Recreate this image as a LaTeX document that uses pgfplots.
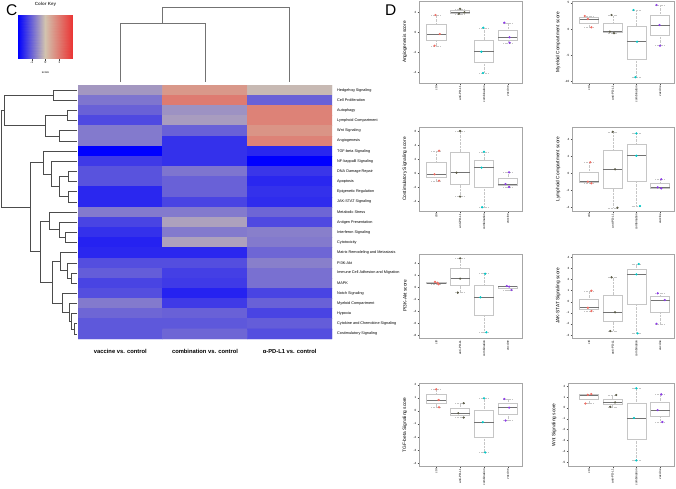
\documentclass[border=0pt]{standalone}
\usepackage{fontspec}
\setmainfont{Liberation Sans}
\usepackage{pgfplots}
\pgfplotsset{compat=1.18}
\usepgfplotslibrary{statistics}

\definecolor{cctrl}{RGB}{240,110,100}
\definecolor{canti}{RGB}{90,90,70}
\definecolor{ccomb}{RGB}{0,200,200}
\definecolor{cvacc}{RGB}{140,60,230}

\pgfplotsset{
  colormap={keymap}{rgb255=(0,0,255) rgb255=(210,195,175) rgb255=(235,50,50)},
  dend/.style={draw=black!70, line width=0.6pt},
  bx/.style={
    anchor=north west, scale only axis, width=103pt, height=83pt,
    xmin=0.28, xmax=4.59, xtick={1,2,3,4},
    xticklabels={ctrl,anti-PD-L1,combination,vaccine},
    xticklabel style={rotate=90, anchor=east, font=\fontsize{3}{3}\selectfont, inner sep=1pt},
    yticklabel style={font=\fontsize{3}{3}\selectfont, inner sep=1pt},
    /pgf/number format/assume math mode=true,
    axis line style={gray!70, line width=0.4pt},
    tick style={gray!60!black, line width=0.3pt},
    tick align=outside, major tick length=1.5pt,
    xtick pos=bottom, ytick pos=left,
    every axis y label/.style={at={(axis description cs:0,0.5)}, xshift=-14pt,
      rotate=90, anchor=center, font=\fontsize{4.8}{5}\selectfont},
    boxplot/draw direction=y, boxplot/box extend=0.8, boxplot/whisker extend=0.4,
    boxplot/every whisker/.style={densely dotted},
    boxplot/every median/.style={draw=black!55, line width=0.6pt, solid},
    clip=false},
}

% box from five numbers: position, lower whisker, lower quartile, median, upper quartile, upper whisker
\newcommand{\bx}[6]{\addplot[boxplot prepared={draw position=#1, lower whisker=#2,
  lower quartile=#3, median=#4, upper quartile=#5, upper whisker=#6},
  draw=gray!45, line width=0.4pt] coordinates {};}
\newcommand{\pts}[2]{\addplot[only marks, mark=*, mark size=0.9pt, color=#1] coordinates {#2};}
\newcommand{\dd}[5]{\addplot[dend] coordinates {(#1,#2) (#3,#2) (#3,#5) (#4,#5)};}

\begin{document}
\begin{tikzpicture}
\useasboundingbox (0,0) rectangle (676pt,-488pt);

\node[anchor=north west, inner sep=0pt, font=\fontsize{15.5}{16}\selectfont] at (6pt,-4.5pt) {C};
\node[anchor=north west, inner sep=0pt, font=\fontsize{15.5}{16}\selectfont] at (385pt,-4.5pt) {D};

% colour key
\begin{axis}[at={(18pt,-15pt)}, anchor=north west, scale only axis, width=55pt, height=43pt,
  xmin=-2, xmax=2, ymin=0, ymax=1, colormap name=keymap, point meta min=-2, point meta max=2,
  ytick=\empty, xtick={-1,0,1}, axis line style={draw=none},
  xtick align=outside, major tick length=2.5pt, xtick pos=bottom,
  tick style={black!70, line width=0.3pt},
  xticklabel style={font=\fontsize{3.2}{3.5}\selectfont, inner sep=0.8pt},
  /pgf/number format/assume math mode=true,
  title={Color Key},
  title style={font=\bfseries\fontsize{4.5}{5}\selectfont, at={(axis description cs:0.5,1)}, anchor=south, yshift=2.5pt, inner sep=0pt, text=black!75},
  xlabel={score},
  every axis x label/.style={at={(axis description cs:0.5,0)}, anchor=north, yshift=-14pt, inner sep=0pt, font=\fontsize{3}{3}\selectfont}]
\addplot[surf, shader=interp, mesh/cols=3, point meta=x, draw=none] coordinates {
(-2,0) (0,0) (2,0)
(-2,1) (0,1) (2,1)};
\end{axis}

% column dendrogram
\begin{axis}[at={(78pt,-5pt)}, anchor=north west, scale only axis, width=254pt, height=77pt,
  xmin=-0.5, xmax=2.5, ymin=5, ymax=82, y dir=reverse, hide axis, clip=false]
\addplot[draw=black!55, line width=0.6pt] coordinates {(0,82) (0,23) (1,23) (1,82)};
\addplot[draw=black!55, line width=0.6pt] coordinates {(0.5,23) (0.5,7) (2,7) (2,82)};
\end{axis}

% row dendrogram
\begin{axis}[at={(0pt,-85pt)}, anchor=north west, scale only axis, width=77pt, height=254pt,
  xmin=0, xmax=77, ymin=-0.5, ymax=24.5, y dir=reverse, hide axis, clip=false]
\dd{77}{0}{53.3}{77}{1}
\dd{77}{2}{67.7}{77}{3}
\dd{77}{4}{59.3}{77}{5}
\dd{67.7}{2.5}{45}{59.3}{4.5}
\dd{53.3}{0.5}{4}{45}{3.5}
\dd{77}{8}{68.3}{77}{9}
\dd{77}{10}{68.3}{77}{11}
\dd{68.3}{8.5}{59.3}{68.3}{10.5}
\dd{77}{7}{51.7}{59.3}{9.5}
\dd{77}{6}{43.3}{51.7}{8.25}
\dd{77}{14}{65}{77}{15}
\dd{77}{13}{59.3}{65}{14.5}
\dd{77}{12}{49.3}{59.3}{13.75}
\dd{77}{18}{71.7}{77}{19}
\dd{77}{17}{67.7}{71.7}{18.5}
\dd{77}{16}{60}{67.7}{17.75}
\dd{77}{23}{74}{77}{24}
\dd{77}{22}{71.7}{74}{23.5}
\dd{77}{21}{69.3}{71.7}{22.75}
\dd{77}{20}{62.7}{69.3}{21.875}
\dd{60}{16.875}{52.7}{62.7}{20.9375}
\dd{49.3}{12.875}{40.7}{52.7}{18.906}
\dd{43.3}{7.125}{30}{40.7}{15.89}
\dd{4}{2}{1}{30}{11.51}
\end{axis}

% heatmap
\begin{axis}[at={(78pt,-85pt)}, anchor=north west, scale only axis, width=254pt, height=254pt,
  xmin=-0.5, xmax=2.5, ymin=-0.5, ymax=24.5, y dir=reverse,
  colormap name=keymap, point meta min=-2, point meta max=2,
  axis line style={draw=none}, tick style={draw=none},
  xtick={0,1,2},
  xticklabels={vaccine vs. control, combination vs. control, α-PD-L1 vs. control},
  xticklabel style={font=\bfseries\fontsize{5.8}{6}\selectfont, anchor=north, inner sep=0pt, yshift=-10pt},
  ytick={0,...,24}, yticklabel pos=right,
  yticklabels={Hedgehog Signaling, Cell Proliferation, Autophagy, Lymphoid Compartment,
    Wnt Signaling, Angiogenesis, TGF-beta Signaling, NF-kappaB Signaling,
    DNA Damage Repair, Apoptosis, Epigenetic Regulation, JAK-STAT Signaling,
    Metabolic Stress, Antigen Presentation, Interferon Signaling, Cytotoxicity,
    Matrix Remodeling and Metastasis, PI3K-Akt, Immune Cell Adhesion and Migration,
    MAPK, Notch Signaling, Myeloid Compartment, Hypoxia,
    Cytokine and Chemokine Signaling, Costimulatory Signaling},
  yticklabel style={font=\fontsize{3.8}{4}\selectfont, anchor=west, inner sep=0pt, xshift=5pt}]
\addplot[matrix plot*, mesh/cols=3, point meta=explicit] table[meta=z] {
x y z
0 0 -0.45
1 0 0.6
2 0 -0.1
0 1 -0.8
1 1 1.0
2 1 -1.0
0 2 -1.0
1 2 -0.5
2 2 0.9
0 3 -1.25
1 3 -0.4
2 3 0.9
0 4 -0.75
1 4 -1.0
2 4 0.65
0 5 -0.75
1 5 -1.5
2 5 0.9
0 6 -2.0
1 6 -1.5
2 6 -1.6
0 7 -1.4
1 7 -1.5
2 7 -2.0
0 8 -1.15
1 8 -0.8
2 8 -1.45
0 9 -1.15
1 9 -1.0
2 9 -1.6
0 10 -1.6
1 10 -1.0
2 10 -1.5
0 11 -1.6
1 11 -1.3
2 11 -1.55
0 12 -0.75
1 12 -0.75
2 12 -0.95
0 13 -1.3
1 13 -0.35
2 13 -1.25
0 14 -1.5
1 14 -0.75
2 14 -0.7
0 15 -1.65
1 15 -0.35
2 15 -0.75
0 16 -1.6
1 16 -1.6
2 16 -0.95
0 17 -1.2
1 17 -1.2
2 17 -0.7
0 18 -1.05
1 18 -1.35
2 18 -0.85
0 19 -1.3
1 19 -1.4
2 19 -0.85
0 20 -1.2
1 20 -1.65
2 20 -1.3
0 21 -0.75
1 21 -1.4
2 21 -1.0
0 22 -0.95
1 22 -1.0
2 22 -1.3
0 23 -1.1
1 23 -1.1
2 23 -1.05
0 24 -1.1
1 24 -0.95
2 24 -1.2
};
\end{axis}

% ---- panel D boxplots ----
\begin{axis}[bx, at={(419pt,-0.7pt)}, height=82.6pt, ymin=-5.1, ymax=3.16,
  ytick={-4,-2,0,2}, ylabel={Angiogenesis score}]
\bx{1}{-1.34}{-0.755}{-0.17}{0.78}{1.73}
\bx{2}{1.85}{1.925}{2.0}{2.175}{2.35}
\bx{3}{-4.07}{-3.005}{-1.94}{-0.74}{0.46}
\bx{4}{-1.04}{-0.77}{-0.5}{0.23}{0.96}
\pts{cctrl}{(0.97,1.73) (1.15,-0.17) (0.93,-1.34)}
\pts{canti}{(2.0,2.35) (2.18,2.0) (1.95,1.85)}
\pts{ccomb}{(2.97,0.46) (2.89,-1.94) (2.96,-4.07)}
\pts{cvacc}{(3.85,0.96) (4.07,-0.5) (4.07,-1.04)}
\end{axis}

\begin{axis}[bx, at={(572pt,-0.7pt)}, width=102pt, height=82.6pt, ymin=-10.36, ymax=5.4,
  ytick={-10,-5,0,5}, ylabel={Myeloid Compartment score}]
\bx{1}{0.32}{1.11}{1.9}{2.19}{2.48}
\bx{2}{-0.8}{-0.65}{-0.5}{1.085}{2.67}
\bx{3}{-9.2}{-5.81}{-2.42}{0.605}{3.63}
\bx{4}{-3.18}{-1.21}{0.76}{2.67}{4.58}
\pts{cctrl}{(0.82,2.48) (0.95,1.9) (1.1,0.32)}
\pts{canti}{(1.95,2.67) (1.88,-0.5) (2.05,-0.8)}
\pts{ccomb}{(2.88,3.63) (3.03,-2.42) (2.96,-9.2)}
\pts{cvacc}{(3.85,4.58) (3.98,0.76) (4.0,-3.18)}
\end{axis}

\begin{axis}[bx, at={(419pt,-127pt)}, height=84pt, ymin=-5.35, ymax=6.57,
  ytick={-4,-2,0,2,4,6}, ylabel={Costimulatory Signaling score}]
\bx{1}{-1.05}{-0.595}{-0.14}{1.53}{3.2}
\bx{2}{-3.3}{-1.605}{0.09}{3.045}{6.0}
\bx{3}{-4.82}{-2.01}{0.8}{1.93}{3.06}
\bx{4}{-1.94}{-1.73}{-1.52}{-0.69}{0.14}
\pts{cctrl}{(1.12,3.2) (0.93,-0.14) (1.12,-1.05)}
\pts{canti}{(2.0,6.0) (1.85,0.09) (2.0,-3.3)}
\pts{ccomb}{(3.0,3.06) (2.9,0.8) (2.92,-4.82)}
\pts{cvacc}{(4.05,0.14) (3.9,-1.52) (4.05,-1.94)}
\end{axis}

\begin{axis}[bx, at={(572pt,-127pt)}, width=102pt, height=84pt, ymin=-4.46, ymax=5.48,
  ytick={-4,-2,0,2,4}, ylabel={Lymphoid Compartment score}]
\bx{1}{-1.18}{-1.085}{-0.99}{0.155}{1.3}
\bx{2}{-4.07}{-1.8}{0.47}{2.695}{4.92}
\bx{3}{-3.87}{-0.895}{2.08}{3.405}{4.73}
\bx{4}{-1.78}{-1.72}{-1.66}{-1.185}{-0.71}
\pts{cctrl}{(1.05,1.3) (0.95,-0.99) (1.1,-1.18)}
\pts{canti}{(2.0,4.92) (2.1,0.47) (2.2,-4.07)}
\pts{ccomb}{(3.0,4.73) (3.0,2.08) (3.15,-3.87)}
\pts{cvacc}{(4.05,-0.71) (3.9,-1.66) (4.05,-1.78)}
\end{axis}

\begin{axis}[bx, at={(419pt,-254pt)}, height=83.7pt, ymin=-8.45, ymax=5.5,
  ytick={-8,-6,-4,-2,0,2,4}, ylabel={PI3K-Akt score}]
\bx{1}{0.45}{0.575}{0.7}{0.775}{0.85}
\bx{2}{-0.94}{0.225}{1.39}{3.085}{4.78}
\bx{3}{-7.55}{-4.635}{-1.72}{0.25}{2.22}
\bx{4}{-0.5}{-0.22}{0.06}{0.115}{0.17}
\pts{cctrl}{(0.95,0.85) (1.05,0.7) (1.1,0.45)}
\pts{canti}{(2.0,4.78) (2.0,1.39) (1.9,-0.94)}
\pts{ccomb}{(3.05,2.22) (2.85,-1.72) (3.1,-7.55)}
\pts{cvacc}{(3.95,0.17) (4.05,0.06) (4.15,-0.5)}
\end{axis}

\begin{axis}[bx, at={(572pt,-254pt)}, width=102pt, height=83.7pt, ymin=-3.24, ymax=4.3,
  ytick={-3,-2,-1,0,1,2,3,4}, ylabel={JAK-STAT Signaling score}]
\bx{1}{-0.84}{-0.69}{-0.54}{0.225}{0.99}
\bx{2}{-2.64}{-1.795}{-0.95}{0.625}{2.2}
\bx{3}{-2.85}{-0.19}{2.47}{2.935}{3.4}
\bx{4}{-1.98}{-0.915}{0.15}{0.455}{0.76}
\pts{cctrl}{(1.1,0.99) (0.95,-0.54) (1.1,-0.84)}
\pts{canti}{(1.95,2.2) (2.1,-0.95) (1.9,-2.64)}
\pts{ccomb}{(3.1,3.4) (3.0,2.47) (3.05,-2.85)}
\pts{cvacc}{(3.9,0.76) (4.2,0.15) (3.85,-1.98)}
\end{axis}

\begin{axis}[bx, at={(419pt,-383.3pt)}, height=83.2pt, ymin=-4.27, ymax=2.12,
  ytick={-4,-3,-2,-1,0,1,2}, ylabel={TGF-beta Signaling score}]
\bx{1}{0.28}{0.56}{0.84}{1.25}{1.66}
\bx{2}{-0.51}{-0.345}{-0.18}{0.205}{0.59}
\bx{3}{-3.19}{-2.03}{-0.87}{0.05}{0.97}
\bx{4}{-0.74}{-0.245}{0.25}{0.585}{0.92}
\pts{cctrl}{(1.0,1.66) (1.1,0.84) (1.12,0.28)}
\pts{canti}{(2.15,0.59) (1.92,-0.18) (2.15,-0.51)}
\pts{ccomb}{(3.0,0.97) (2.95,-0.87) (3.05,-3.19)}
\pts{cvacc}{(3.85,0.92) (4.05,0.25) (3.9,-0.74)}
\end{axis}

\begin{axis}[bx, at={(568pt,-383.3pt)}, width=106pt, height=83.2pt, xmin=0.114,
  ymin=-5.4, ymax=2.26, ytick={-5,-4,-3,-2,-1,0,1,2}, ylabel={Wnt Signaling score}]
\bx{1}{0.4}{0.8}{1.2}{1.235}{1.27}
\bx{2}{0.1}{0.3}{0.5}{0.84}{1.18}
\bx{3}{-4.84}{-2.885}{-0.93}{0.435}{1.8}
\bx{4}{-1.3}{-0.755}{-0.21}{0.515}{1.24}
\pts{cctrl}{(1.1,1.27) (0.95,1.2) (0.85,0.4)}
\pts{canti}{(2.15,1.18) (2.1,0.5) (1.9,0.1)}
\pts{ccomb}{(3.0,1.8) (2.9,-0.93) (3.0,-4.84)}
\pts{cvacc}{(4.05,1.24) (3.9,-0.21) (4.1,-1.3)}
\end{axis}
\end{tikzpicture}
\end{document}
